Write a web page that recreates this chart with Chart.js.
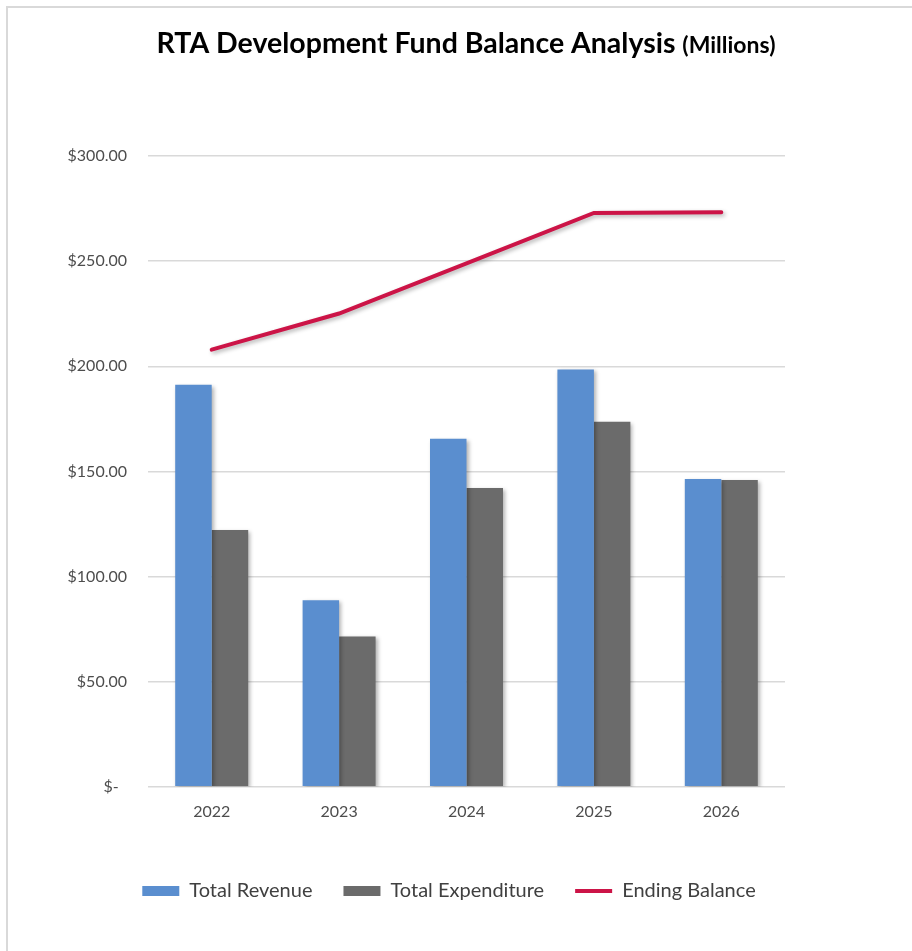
<!DOCTYPE html>
<html>
<head>
<meta charset="utf-8">
<script src="https://cdn.jsdelivr.net/npm/chart.js@4"></script>
<style>
  html, body { margin: 0; padding: 0; background: #fff; }
  #wrap { position: relative; width: 912px; height: 951px; }
  #frame { position: absolute; left: 6px; top: 6px; right: 0; bottom: 0;
           border-top: 2px solid #d9d9d9; border-left: 2px solid #d9d9d9; pointer-events: none; }
</style>
</head>
<body>
<div id="wrap">
  <canvas id="chart" width="912" height="951"></canvas>
  <div id="frame"></div>
</div>
<script>
// values (millions)
const years = ["2022", "2023", "2024", "2025", "2026"];
const revenue = [191.2, 88.7, 165.5, 198.5, 146.4];
const expenditure = [122.1, 71.5, 142.1, 173.6, 145.9];
const balance = [207.9, 225.1, 248.9, 272.9, 273.2];

const FONT = "Lato, 'Open Sans', sans-serif";

// title with a smaller "(Millions)" part
const titlePlugin = {
    id: "mixedTitle",
    afterDraw(chart) {
        const ctx = chart.ctx;
        const main = "RTA Development Fund Balance Analysis ";
        const sub = "(Millions)";
        ctx.save();
        ctx.fillStyle = "#000";
        ctx.textBaseline = "alphabetic";
        ctx.font = "bold 28.5px " + FONT;
        const w1 = ctx.measureText(main).width;
        ctx.font = "bold 23px " + FONT;
        const w2 = ctx.measureText(sub).width;
        let x = 466 - (w1 + w2) / 2;
        ctx.font = "bold 28.5px " + FONT;
        ctx.fillText(main, x, 53);
        ctx.font = "bold 23px " + FONT;
        ctx.fillText(sub, x + w1, 53);
        ctx.restore();
    }
};

// soft drop shadow under bars and line
const shadowPlugin = {
    id: "shadow",
    beforeDatasetsDraw(chart) {
        const ctx = chart.ctx;
        ctx.save();
        ctx.shadowColor = "rgba(0,0,0,0.3)";
        ctx.shadowBlur = 4;
        ctx.shadowOffsetX = 2;
        ctx.shadowOffsetY = 2;
    },
    afterDatasetsDraw(chart) {
        chart.ctx.restore();
    }
};

new Chart(document.getElementById("chart"), {
    type: "bar",
    data: {
        labels: years,
        datasets: [
            {
                label: "Total Revenue",
                data: revenue,
                backgroundColor: "#5a8ecf",
                pointStyle: "rect",
                order: 2
            },
            {
                label: "Total Expenditure",
                data: expenditure,
                backgroundColor: "#6b6b6b",
                pointStyle: "rect",
                order: 2
            },
            {
                type: "line",
                label: "Ending Balance",
                data: balance,
                borderColor: "#cc1447",
                backgroundColor: "#cc1447",
                borderWidth: 4,
                borderCapStyle: "round",
                pointRadius: 0,
                pointStyle: "line",
                tension: 0,
                order: 1
            }
        ]
    },
    plugins: [titlePlugin, shadowPlugin],
    options: {
        responsive: false,
        animation: false,
        layout: { padding: { top: 156, right: 14, bottom: 40, left: 0 } },
        datasets: {
            bar: { barPercentage: 1, categoryPercentage: 0.573 }
        },
        scales: {
            x: {
                grid: { display: false },
                border: { display: false },
                afterFit(scale) { scale.height += 22; },
                ticks: { color: "#4d4d4d", font: { family: FONT, size: 16 }, padding: 7 }
            },
            y: {
                min: 0,
                max: 300,
                afterFit(scale) { scale.width = 148; },
                grid: { color: "#d9d9d9", lineWidth: 1.5, drawTicks: false },
                border: { display: false },
                ticks: {
                    stepSize: 50,
                    padding: 21,
                    color: "#4d4d4d",
                    font: { family: FONT, size: 16 },
                    callback: v => v === 0 ? "$-  " : "$" + v.toFixed(2)
                }
            },
            // empty right axis only to keep the plot's right margin
            yRight: {
                position: "right",
                display: true,
                afterFit(scale) { scale.width = 113; },
                grid: { display: false },
                border: { display: false },
                ticks: { display: false }
            }
        },
        plugins: {
            title: { display: false },
            tooltip: { enabled: false },
            legend: {
                position: "bottom",
                labels: {
                    usePointStyle: true,
                    pointStyleWidth: 37,
                    boxHeight: 10,
                    padding: 31,
                    color: "#404040",
                    font: { family: FONT, size: 20 },
                    sort: (a, b) => a.datasetIndex - b.datasetIndex
                }
            }
        }
    }
});
</script>
</body>
</html>
